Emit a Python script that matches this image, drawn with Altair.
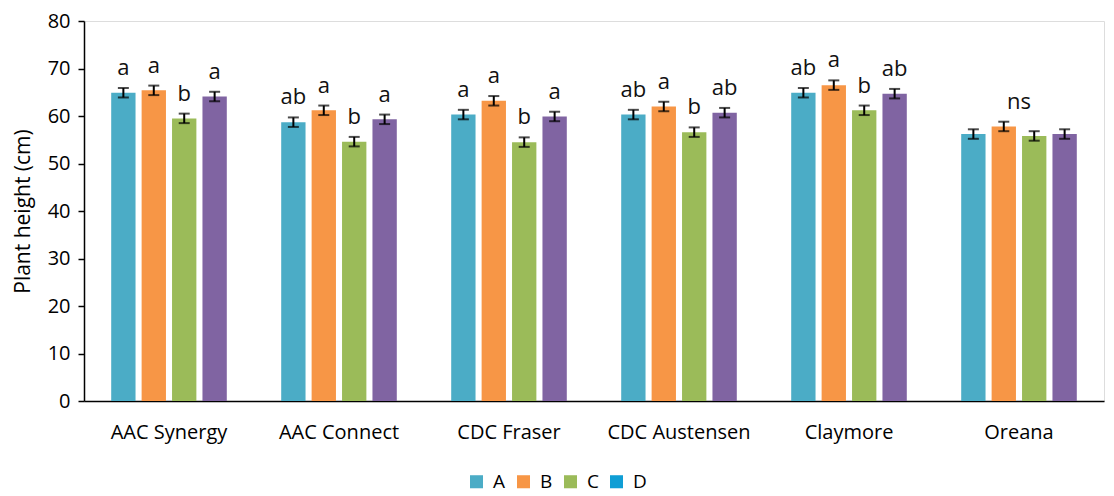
import altair as alt
import pandas as pd

varieties = ["AAC Synergy", "AAC Connect", "CDC Fraser", "CDC Austensen", "Claymore", "Oreana"]
series = ["A", "B", "C", "D"]
vals_A = [64.9, 58.7, 60.3, 60.3, 64.9, 56.2]
vals_B = [65.4, 61.2, 63.2, 62.0, 66.5, 57.8]
vals_C = [59.5, 54.6, 54.5, 56.6, 61.2, 55.8]
vals_D = [64.1, 59.3, 59.9, 60.7, 64.7, 56.2]
errs_A = [1.0, 1.0, 1.0, 1.0, 1.0, 1.0]
errs_B = [1.0, 1.0, 1.0, 1.0, 1.0, 1.0]
errs_C = [1.0, 1.0, 1.0, 1.0, 1.0, 1.0]
errs_D = [1.0, 1.0, 1.0, 1.0, 1.0, 1.0]
lab_A = ["a", "ab", "a", "ab", "ab", ""]
lab_B = ["a", "a", "a", "a", "a", ""]
lab_C = ["b", "b", "b", "b", "b", ""]
lab_D = ["a", "a", "a", "ab", "ab", ""]
group_labels = ["", "", "", "", "", "ns"]

bar_colors = ["#4BACC6", "#F79646", "#9BBB59", "#8064A2"]
legend_colors = ["#4BACC6", "#F79646", "#9BBB59", "#0F9ED5"]

FONT = "Open Sans"

rows = []
for s, vals, errs, labs, col in zip(series, [vals_A, vals_B, vals_C, vals_D],
                                    [errs_A, errs_B, errs_C, errs_D],
                                    [lab_A, lab_B, lab_C, lab_D], bar_colors):
    for v, val, e, lab in zip(varieties, vals, errs, labs):
        rows.append({"variety": v, "series": s, "value": val, "lo": val - e,
                     "hi": val + e, "label": lab, "barcolor": col})
df = pd.DataFrame(rows)

grp = []
for i, v in enumerate(varieties):
    if group_labels[i]:
        top = max(vv + ee for vv, ee in zip(
            [vals_A[i], vals_B[i], vals_C[i], vals_D[i]],
            [errs_A[i], errs_B[i], errs_C[i], errs_D[i]]))
        grp.append({"variety": v, "top": top, "label": group_labels[i]})
gdf = pd.DataFrame(grp)

xenc = alt.X("variety:N", sort=varieties, title=None,
             scale=alt.Scale(paddingInner=0.32, paddingOuter=0.16),
             axis=alt.Axis(labelAngle=0, ticks=False, labelPadding=21, labelFontSize=20,
                           labelFont=FONT, labelColor="#000", domainColor="#000",
                           domainWidth=1.5))
xoff = alt.XOffset("series:N", sort=series, scale=alt.Scale(paddingInner=0.2))
yscale = alt.Scale(domain=[0, 80])
yenc = alt.Y("value:Q", scale=yscale, title="Plant height (cm)",
             axis=alt.Axis(values=list(range(0, 81, 10)), grid=False, tickSize=6,
                           tickColor="#000", tickWidth=1.5, domainColor="#000",
                           domainWidth=1.5, labelFontSize=20, labelFont=FONT,
                           labelColor="#000", labelPadding=8, titleFontSize=21,
                           titleFont=FONT, titleFontWeight="normal", titleColor="#000",
                           titlePadding=14))

base = alt.Chart(df).encode(x=xenc, xOffset=xoff)

bars = base.mark_bar().encode(y=yenc, fill=alt.Fill("barcolor:N", scale=None))

legend_layer = base.mark_bar().encode(
    y=alt.datum(0, scale=yscale), y2=alt.datum(0),
    color=alt.Color("series:N", sort=series,
                    scale=alt.Scale(domain=series, range=legend_colors),
                    legend=alt.Legend(title=None, orient="none", direction="horizontal",
                                      legendX=383, legendY=451,
                                      symbolType="square", symbolSize=170,
                                      symbolStrokeWidth=0, labelFontSize=19,
                                      labelFont=FONT, labelColor="#000", labelOffset=7,
                                      columnPadding=8)))

rules = base.mark_rule(color="#000", strokeWidth=2).encode(y="lo:Q", y2="hi:Q")
caps_lo = base.mark_tick(color="#000", thickness=2, size=11).encode(y="lo:Q")
caps_hi = base.mark_tick(color="#000", thickness=2, size=11).encode(y="hi:Q")
texts = base.mark_text(baseline="alphabetic", dy=-13, fontSize=22, font=FONT,
                       color="#111").encode(y="hi:Q", text="label:N")

ns_text = alt.Chart(gdf).mark_text(baseline="alphabetic", dy=-13, fontSize=22,
                                   font=FONT, color="#111").encode(
    x=alt.X("variety:N", sort=varieties), y=alt.Y("top:Q"), text="label:N")

chart = alt.layer(bars, legend_layer, rules, caps_lo, caps_hi, texts, ns_text).properties(
    width=1020, height=380,
    autosize=alt.AutoSizeParams(type="none"),
    padding={"left": 76, "top": 13, "right": 2, "bottom": 95},
).configure_view(stroke=None).configure(background="white")

chart.save("out.html", embed_options={"renderer": "svg", "actions": False})
